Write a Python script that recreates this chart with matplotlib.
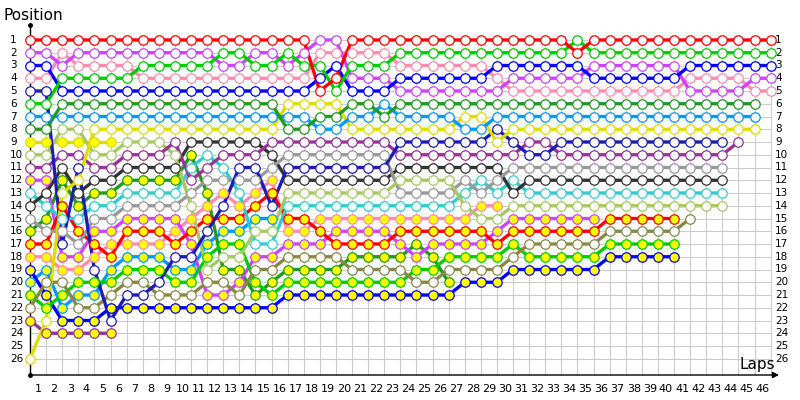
import numpy as np
import matplotlib
matplotlib.use("Agg")
import matplotlib.pyplot as plt

N = None

# lap chart: position of every car after each column (column 0 = start)
laps = list(range(1, 47))
positions = list(range(1, 27))

red_w = [1, 1, 1, 1, 1, 1, 1, 1, 1, 1, 1, 1, 1, 1, 1, 1, 1, 1, 5, 4,
         1, 1, 1, 1, 1, 1, 1, 1, 1, 1, 1, 1, 1, 1, 2, 1, 1, 1, 1, 1,
         1, 1, 1, 1, 1, 1, 1]
violet_w = [2, 2, 3, 2, 2, 2, 2, 2, 2, 2, 2, 2, 3, 3, 2, 2, 3, 2, 1, 1,
            4, 4, 4, 5, 5, 5, 5, 5, 5, 5, 4, 4, 4, 4, 4, 3, 3, 3, 3, 3,
            3, 5, 5, 5, 5, 4, 4]
blue_w = [3, 3, 5, 5, 5, 5, 5, 5, 5, 5, 5, 5, 5, 5, 5, 5, 5, 5, 4, 3,
          5, 5, 5, 4, 4, 4, 4, 4, 4, 3, 3, 3, 3, 3, 3, 4, 4, 4, 4, 4,
          4, 3, 3, 3, 3, 3, 3]
pink_w = [4, 4, 2, 3, 3, 3, 3, 4, 4, 4, 4, 4, 4, 4, 4, 4, 4, 4, 2, 2,
          2, 2, 2, 3, 3, 3, 3, 3, 3, 4, 5, 5, 5, 5, 5, 5, 5, 5, 5, 5,
          5, 4, 4, 4, 4, 5, 5]
green_w = [6, 6, 4, 4, 4, 4, 4, 3, 3, 3, 3, 3, 2, 2, 3, 3, 2, 3, 3, 5,
           3, 3, 3, 2, 2, 2, 2, 2, 2, 2, 2, 2, 2, 2, 1, 2, 2, 2, 2, 2,
           2, 2, 2, 2, 2, 2, 2]
navy_w = [5, 5, 17, 11, 19, 23, 21, 21, 20, 18, 18, 16, 14, 11, 11, 14, 11, 11, 11, 11,
          11, 11, 11, 9, 9, 9, 9, 9, 9, 8, 9, 10, 10, 9, 9, 9, 9, 9, 9, 9,
          9, 9, 9, 9, N, N, N]
dkgreen_w = [8, 8, 6, 6, 6, 6, 6, 6, 6, 6, 6, 6, 6, 6, 6, 6, 8, 8, 7, 7,
             6, 6, 7, 6, 6, 6, 6, 6, 6, 6, 6, 6, 6, 6, 6, 6, 6, 6, 6, 6,
             6, 6, 6, 6, 6, 6, N]
ltblue_w = [7, 7, 7, 7, 7, 7, 7, 7, 7, 7, 7, 7, 7, 7, 7, 7, 7, 7, 8, 8,
            7, 7, 6, 7, 7, 7, 7, 8, 8, 7, 7, 7, 7, 7, 7, 7, 7, 7, 7, 7,
            7, 7, 7, 7, 7, 7, N]
yellow_w = [26, 23, 13, 12, 8, 8, 8, 8, 8, 8, 8, 8, 8, 8, 8, 8, 6, 6, 6, 6,
            8, 8, 8, 8, 8, 8, 8, 7, 7, 9, 8, 8, 8, 8, 8, 8, 8, 8, 8, 8,
            8, 8, 8, 8, 8, 8, N]
yellow_y = [9, 9, 9, 9, 9, 9]
ltgreen_w = [10, 10, 8, 8, 10, 10, 9, 9, 9, 10, 14, 19, 18, 18, 16, 16, 13, 13, 13, 13,
             13, 13, 13, 12, 12, 12, 12, 14, 15, 15, 14, 14, 14, 14, 14, 14, 14, 14, 14, 14,
             14, 14, 14, 14]
purple_w = [11, 11, 10, 10, 11, 11, 10, 10, 10, 9, 12, 11, 10, 10, 10, 9, 9, 9, 9, 9,
            9, 9, 9, 10, 10, 10, 10, 10, 10, 10, 10, 9, 9, 10, 10, 10, 10, 10, 10, 10,
            10, 10, 10, 10, 9]
dkgray_w = [14, 13, 11, 13, 12, 12, 11, 11, 11, 11, 9, 9, 9, 9, 9, 10, 12, 12, 12, 12,
            12, 12, 12, 11, 11, 11, 11, 11, 11, 11, 13, 12, 12, 12, 12, 12, 12, 12, 12, 12,
            12, 12, 12, 12]
gray_w = [15, 16, 16, 17, 15, 15, 14, 14, 14, 14, 13, 12, 12, 12, 12, 11, 10, 10, 10, 10,
          10, 10, 10, 13, 13, 13, 13, 12, 13, 12, 11, 11, 11, 11, 11, 11, 11, 11, 11, 11,
          11, 11, 11, 11]
cyan_w = [13, 14, 15, 15, 14, 14, 13, 13, 13, 13, 11, 10, 11, 13, 17, 17, 14, 14, 14, 14,
          14, 14, 14, 14, 14, 14, 14, 13, 12, 13, 12, 13, 13, 13, 13, 13, 13, 13, 13, 13,
          13, 13, 13, 13]
violet_y = [12, 12, 18, 18, 16, 16, 15, 15, 15, 15, 17, 21, 21, 20, 18, 18, 17, 17, 17, 16,
            16, 16, 16, 17, 18, 17, 17, 17, 17, 16, 15, 15, 15, 15, 15, 15]
dkgreen_y = [16, 15, 12, 14, 13, 13, 12, 12, 12, 12, 10, 13, 19, 19, 21, 20, 19, 19, 19, 19,
             18, 18, 18, 18, 17, 18, 20]
red_y = [17, 17, 14, 16, 17, 18, 16, 16, 16, 17, 16, 15, 15, 15, 14, 13, 15, 15, 16, 17,
         17, 17, 17, 16, 16, 16, 16, 16, 16, 17, 16, 16, 16, 16, 16, 16, 15, 15, 15, 15,
         15]
pink_y = [18, 18, 19, 19, 18, 17, 17, 17, 17, 16, 15, 14, 13, 14, 13, 12, 16, 16, 15, 15,
          15, 15, 15, 15, 15, 15, 15, 15, 14, 14]
blue_y = [19, 21, 23, 23, 23, 22, 22, 22, 22, 22, 22, 22, 22, 22, 22, 22, 21, 21, 21, 21,
          21, 21, 21, 21, 21, 21, 21, 20, 20, 20, 19, 19, 19, 19, 19, 19, 18, 18, 18, 18,
          18]
ltblue_y = [20, 19, 22, 21, 21, 19, 18, 18, 18, 19, 19, 17, 16, 16, 15, 15]
green_y = [21, 22, 21, 20, 20, 20, 19, 19, 19, 20, 20, 18, 17, 17, 20, 21, 20, 20, 20, 20,
           20, 20, 20, 20, 19, 19, 18, 18, 18, 18, 17, 18, 18, 18, 18, 18, 17, 17, 17, 17,
           17]
olive_w = [22, 20, 20, 22, 22, 21, 20, 20, 21, 21, 21, 20, 20, 21, 19, 19, 18, 18, 18, 18,
           19, 19, 19, 19, 20, 20, 19, 19, 19, 19, 18, 17, 17, 17, 17, 17, 16, 16, 16, 16,
           16, 15]
purple_y = [23, 24, 24, 24, 24, 24]

# (values, line colour, marker face)
cars = [
    (purple_y, '#993399', '#ffff00'),
    (yellow_y, '#dddd00', '#ffff00'),
    (ltblue_y, '#0099ff', '#ffff00'),
    (dkgreen_y, '#229922', '#ffff00'),
    (pink_y, '#ff8cb0', '#ffff00'),
    (violet_y, '#cc44ff', '#ffff00'),
    (blue_y, '#0000ff', '#ffff00'),
    (green_y, '#00cc00', '#ffff00'),
    (red_y, '#ff0000', '#ffff00'),
    (olive_w, '#888844', 'white'),
    (cyan_w, '#33cccc', 'white'),
    (dkgray_w, '#333333', 'white'),
    (gray_w, '#999999', 'white'),
    (ltgreen_w, '#a8c864', 'white'),
    (purple_w, '#993399', 'white'),
    (navy_w, '#1c1cb4', 'white'),
    (yellow_w, '#dddd00', 'white'),
    (ltblue_w, '#0099ff', 'white'),
    (dkgreen_w, '#229922', 'white'),
    (pink_w, '#ff8cb0', 'white'),
    (violet_w, '#cc44ff', 'white'),
    (blue_w, '#0000ff', 'white'),
    (green_w, '#00cc00', 'white'),
    (red_w, '#ff0000', 'white'),
]


# pixel helpers for the frame (column spacing 16.1 px, row spacing 12.75 px)
def cx(px):
    return (px - 30) / 16.1


def ry(py):
    return 1 + (py - 40) / 12.75


fig = plt.figure(figsize=(8, 4), dpi=100)
ax = fig.add_axes([0, 0, 1, 1])
ax.set_xlim(cx(0), cx(800))
ax.set_ylim(ry(400), ry(0))
ax.axis('off')

ncol = len(laps) + 1
y_axis = ry(375)

# grid
ax.vlines(range(ncol), 1, y_axis, color='#cccccc', lw=0.8, zorder=0)
ax.hlines(positions, 0, ncol - 1, color='#cccccc', lw=0.8, zorder=0)

# axes with arrow / dot
ax.plot([0, 0], [y_axis, ry(25)], color='black', lw=1, zorder=1)
ax.plot([0], [ry(25)], 'o', color='black', ms=2.5, zorder=1)
ax.plot([0], [y_axis], 'o', color='black', ms=2.5, zorder=1)
ax.annotate('', xy=(cx(779), y_axis), xytext=(0, y_axis),
            arrowprops=dict(arrowstyle='-|>', color='black', lw=1,
                            mutation_scale=9, shrinkA=0, shrinkB=0))

# position labels both sides
for p in positions:
    ax.text(cx(10), p, str(p), ha='left', va='center', fontsize=7.5)
    ax.text(cx(775), p, str(p), ha='left', va='center', fontsize=7.5)

# lap labels sit between the columns
for lap in laps:
    ax.text(lap - 0.5, ry(389), str(lap), ha='center', va='center', fontsize=8)

ax.text(cx(3), ry(15), 'Position', ha='left', va='center', fontsize=11)
ax.text(cx(775), ry(364), 'Laps', ha='right', va='center', fontsize=11)

# lines first, then the circles on top
for vals, col, face in cars:
    y = np.array([np.nan if v is None else v for v in vals], dtype=float)
    x = np.arange(len(y))
    ax.plot(x, y, '-', color=col, lw=2.4, solid_capstyle='round', zorder=2)

for vals, col, face in cars:
    y = np.array([np.nan if v is None else v for v in vals], dtype=float)
    x = np.arange(len(y))
    ax.plot(x, y, 'o', ms=6.8, mfc=face, mec=col, mew=0.9, zorder=3)

fig.savefig('out.png', dpi=100)
